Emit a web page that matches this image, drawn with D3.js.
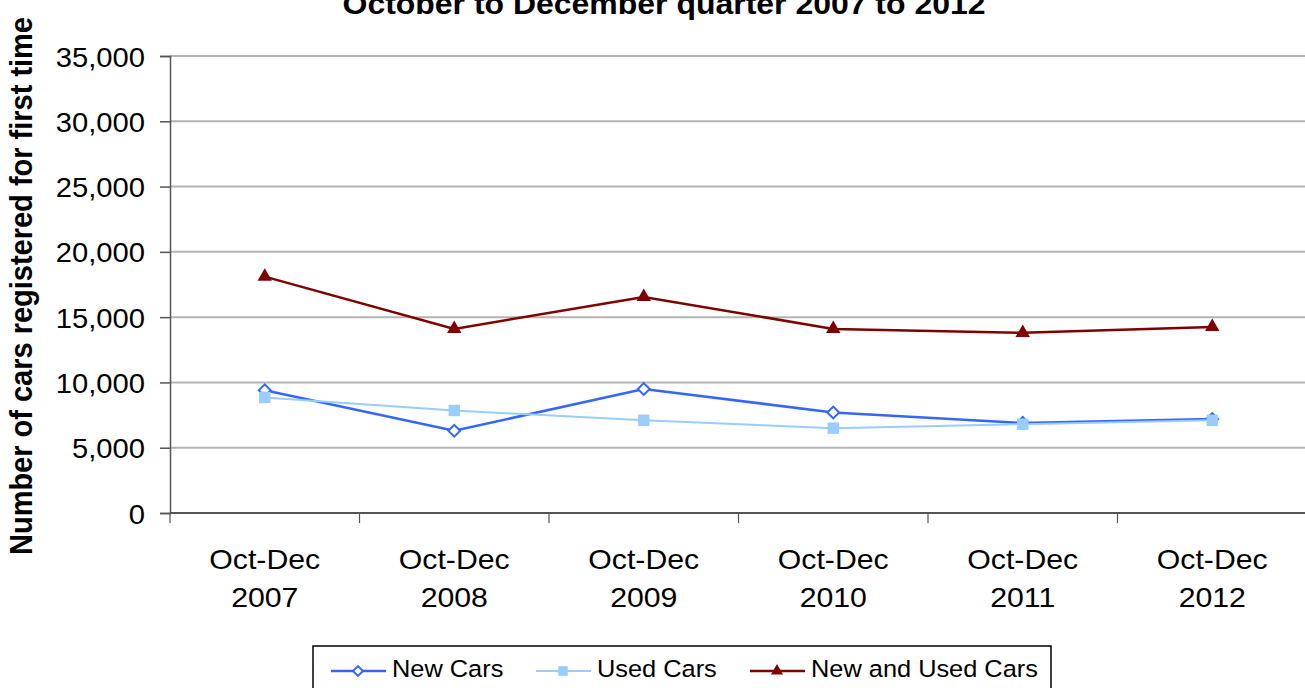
<!DOCTYPE html>
<html>
<head>
<meta charset="utf-8">
<script src="https://cdn.jsdelivr.net/npm/d3@7"></script>
<style>
  body { margin: 0; background: #fff; }
  text { font-family: "Liberation Sans", Arial, sans-serif; }
</style>
</head>
<body>
<script>
const categories = ['Oct-Dec 2007', 'Oct-Dec 2008', 'Oct-Dec 2009', 'Oct-Dec 2010', 'Oct-Dec 2011', 'Oct-Dec 2012'];
const newCars = [9400, 6300, 9500, 7700, 6900, 7200];
const usedCars = [8850, 7850, 7100, 6500, 6800, 7100];
const newAndUsed = [18100, 14100, 16550, 14100, 13800, 14250];
const yTicks = [0, 5000, 10000, 15000, 20000, 25000, 30000, 35000];

const series = [
  { name: 'New Cars', values: newCars, color: '#3366ff', symbol: 'diamond', width: 2.5 },
  { name: 'Used Cars', values: usedCars, color: '#99ccff', symbol: 'square', width: 2 },
  { name: 'New and Used Cars', values: newAndUsed, color: '#800000', symbol: 'triangle', width: 2.5 }
];

const width = 1305, height = 688;
const plot = { left: 170, right: 1307, top: 56, bottom: 513 };
const stretch = 1.08; // the original text is a bit wider than it is tall

const svg = d3.select('body').append('svg')
  .attr('width', width)
  .attr('height', height);

const x = d3.scaleBand()
  .domain(categories)
  .range([plot.left, plot.right])
  .padding(0);
const y = d3.scaleLinear()
  .domain([0, 35000])
  .range([plot.bottom, plot.top]);

// title (top part cut off in the original)
svg.append('text')
  .attr('transform', `translate(664,14) scale(${stretch},1)`)
  .attr('text-anchor', 'middle')
  .attr('font-size', 29.6)
  .attr('font-weight', 'bold')
  .text('October to December quarter 2007 to 2012');

// gridlines
svg.append('g')
  .selectAll('line')
  .data(yTicks.filter(d => d > 0))
  .join('line')
  .attr('x1', plot.left)
  .attr('x2', width)
  .attr('y1', d => y(d))
  .attr('y2', d => y(d))
  .attr('stroke', '#b4b4b4')
  .attr('stroke-width', 2);

// y axis
const yAxis = svg.append('g')
  .attr('transform', `translate(${plot.left},0)`)
  .call(d3.axisLeft(y).tickValues(yTicks).tickFormat(d3.format(',')).tickSize(10));
yAxis.select('.domain').attr('stroke', '#555').attr('stroke-width', 1.5);
yAxis.selectAll('.tick line').attr('stroke', '#555').attr('stroke-width', 1.5);
yAxis.selectAll('.tick text')
  .attr('x', 0)
  .attr('dy', null)
  .attr('transform', `translate(-25,10) scale(${stretch},1)`)
  .attr('font-size', 27)
  .attr('font-family', '"Liberation Sans", Arial, sans-serif')
  .attr('fill', '#000');

// x axis
const xAxisG = svg.append('g');
xAxisG.append('line')
  .attr('x1', plot.left).attr('x2', width)
  .attr('y1', y(0)).attr('y2', y(0))
  .attr('stroke', '#555').attr('stroke-width', 2);
xAxisG.selectAll('line.tk')
  .data(categories.concat(['end']))
  .join('line')
  .attr('class', 'tk')
  .attr('x1', d => d === 'end' ? plot.right : x(d))
  .attr('x2', d => d === 'end' ? plot.right : x(d))
  .attr('y1', y(0))
  .attr('y2', y(0) + 10)
  .attr('stroke', '#555')
  .attr('stroke-width', 1.2);
const xl = xAxisG.selectAll('text.xl')
  .data(categories)
  .join('text')
  .attr('class', 'xl')
  .attr('text-anchor', 'middle')
  .attr('font-size', 28)
  .attr('transform', d => `translate(${x(d) + x.bandwidth() / 2},0) scale(${stretch},1)`);
xl.append('tspan')
  .attr('x', 0)
  .attr('y', 569)
  .text(d => d.split(' ')[0]);
xl.append('tspan')
  .attr('x', 0)
  .attr('y', 607)
  .text(d => d.split(' ')[1]);

// y axis title
svg.append('text')
  .attr('transform', 'translate(32,555) rotate(-90) scale(1,1.1)')
  .attr('font-size', 29)
  .attr('font-weight', 'bold')
  .text('Number of cars registered for first time');

// lines and markers
const line = d3.line()
  .x((d, i) => x(categories[i]) + x.bandwidth() / 2)
  .y(d => y(d));

function marker(sel, s, cx, cy, k) {
  if (s.symbol === 'diamond') {
    sel.append('path')
      .attr('d', d3.symbol(d3.symbolSquare, 70 * k)())
      .attr('transform', `translate(${cx},${cy}) rotate(45)`)
      .attr('fill', '#fff')
      .attr('stroke', s.color)
      .attr('stroke-width', 2);
  } else if (s.symbol === 'square') {
    sel.append('path')
      .attr('d', d3.symbol(d3.symbolSquare, 130 * k)())
      .attr('transform', `translate(${cx},${cy})`)
      .attr('fill', s.color);
  } else {
    sel.append('path')
      .attr('d', d3.symbol(d3.symbolTriangle, 90 * k)())
      .attr('transform', `translate(${cx},${cy})`)
      .attr('fill', s.color);
  }
}

series.forEach(s => {
  const g = svg.append('g');
  g.append('path')
    .attr('d', line(s.values))
    .attr('fill', 'none')
    .attr('stroke', s.color)
    .attr('stroke-width', s.width);
  s.values.forEach((v, i) => {
    marker(g, s, x(categories[i]) + x.bandwidth() / 2, y(v), 1);
  });
});

// legend
const legend = svg.append('g');
legend.append('rect')
  .attr('x', 313).attr('y', 646)
  .attr('width', 738).attr('height', 50)
  .attr('fill', '#fff')
  .attr('stroke', '#000')
  .attr('stroke-width', 1.5);
const legendX = [331, 536, 750];
series.forEach((s, i) => {
  const lx = legendX[i];
  legend.append('line')
    .attr('x1', lx).attr('x2', lx + 55)
    .attr('y1', 671).attr('y2', 671)
    .attr('stroke', s.color)
    .attr('stroke-width', s.width);
  marker(legend, s, lx + 27, 671, 0.7);
  legend.append('text')
    .attr('transform', `translate(${lx + 61},677) scale(${stretch},1)`)
    .attr('font-size', 23.5)
    .text(s.name);
});
</script>
</body>
</html>
